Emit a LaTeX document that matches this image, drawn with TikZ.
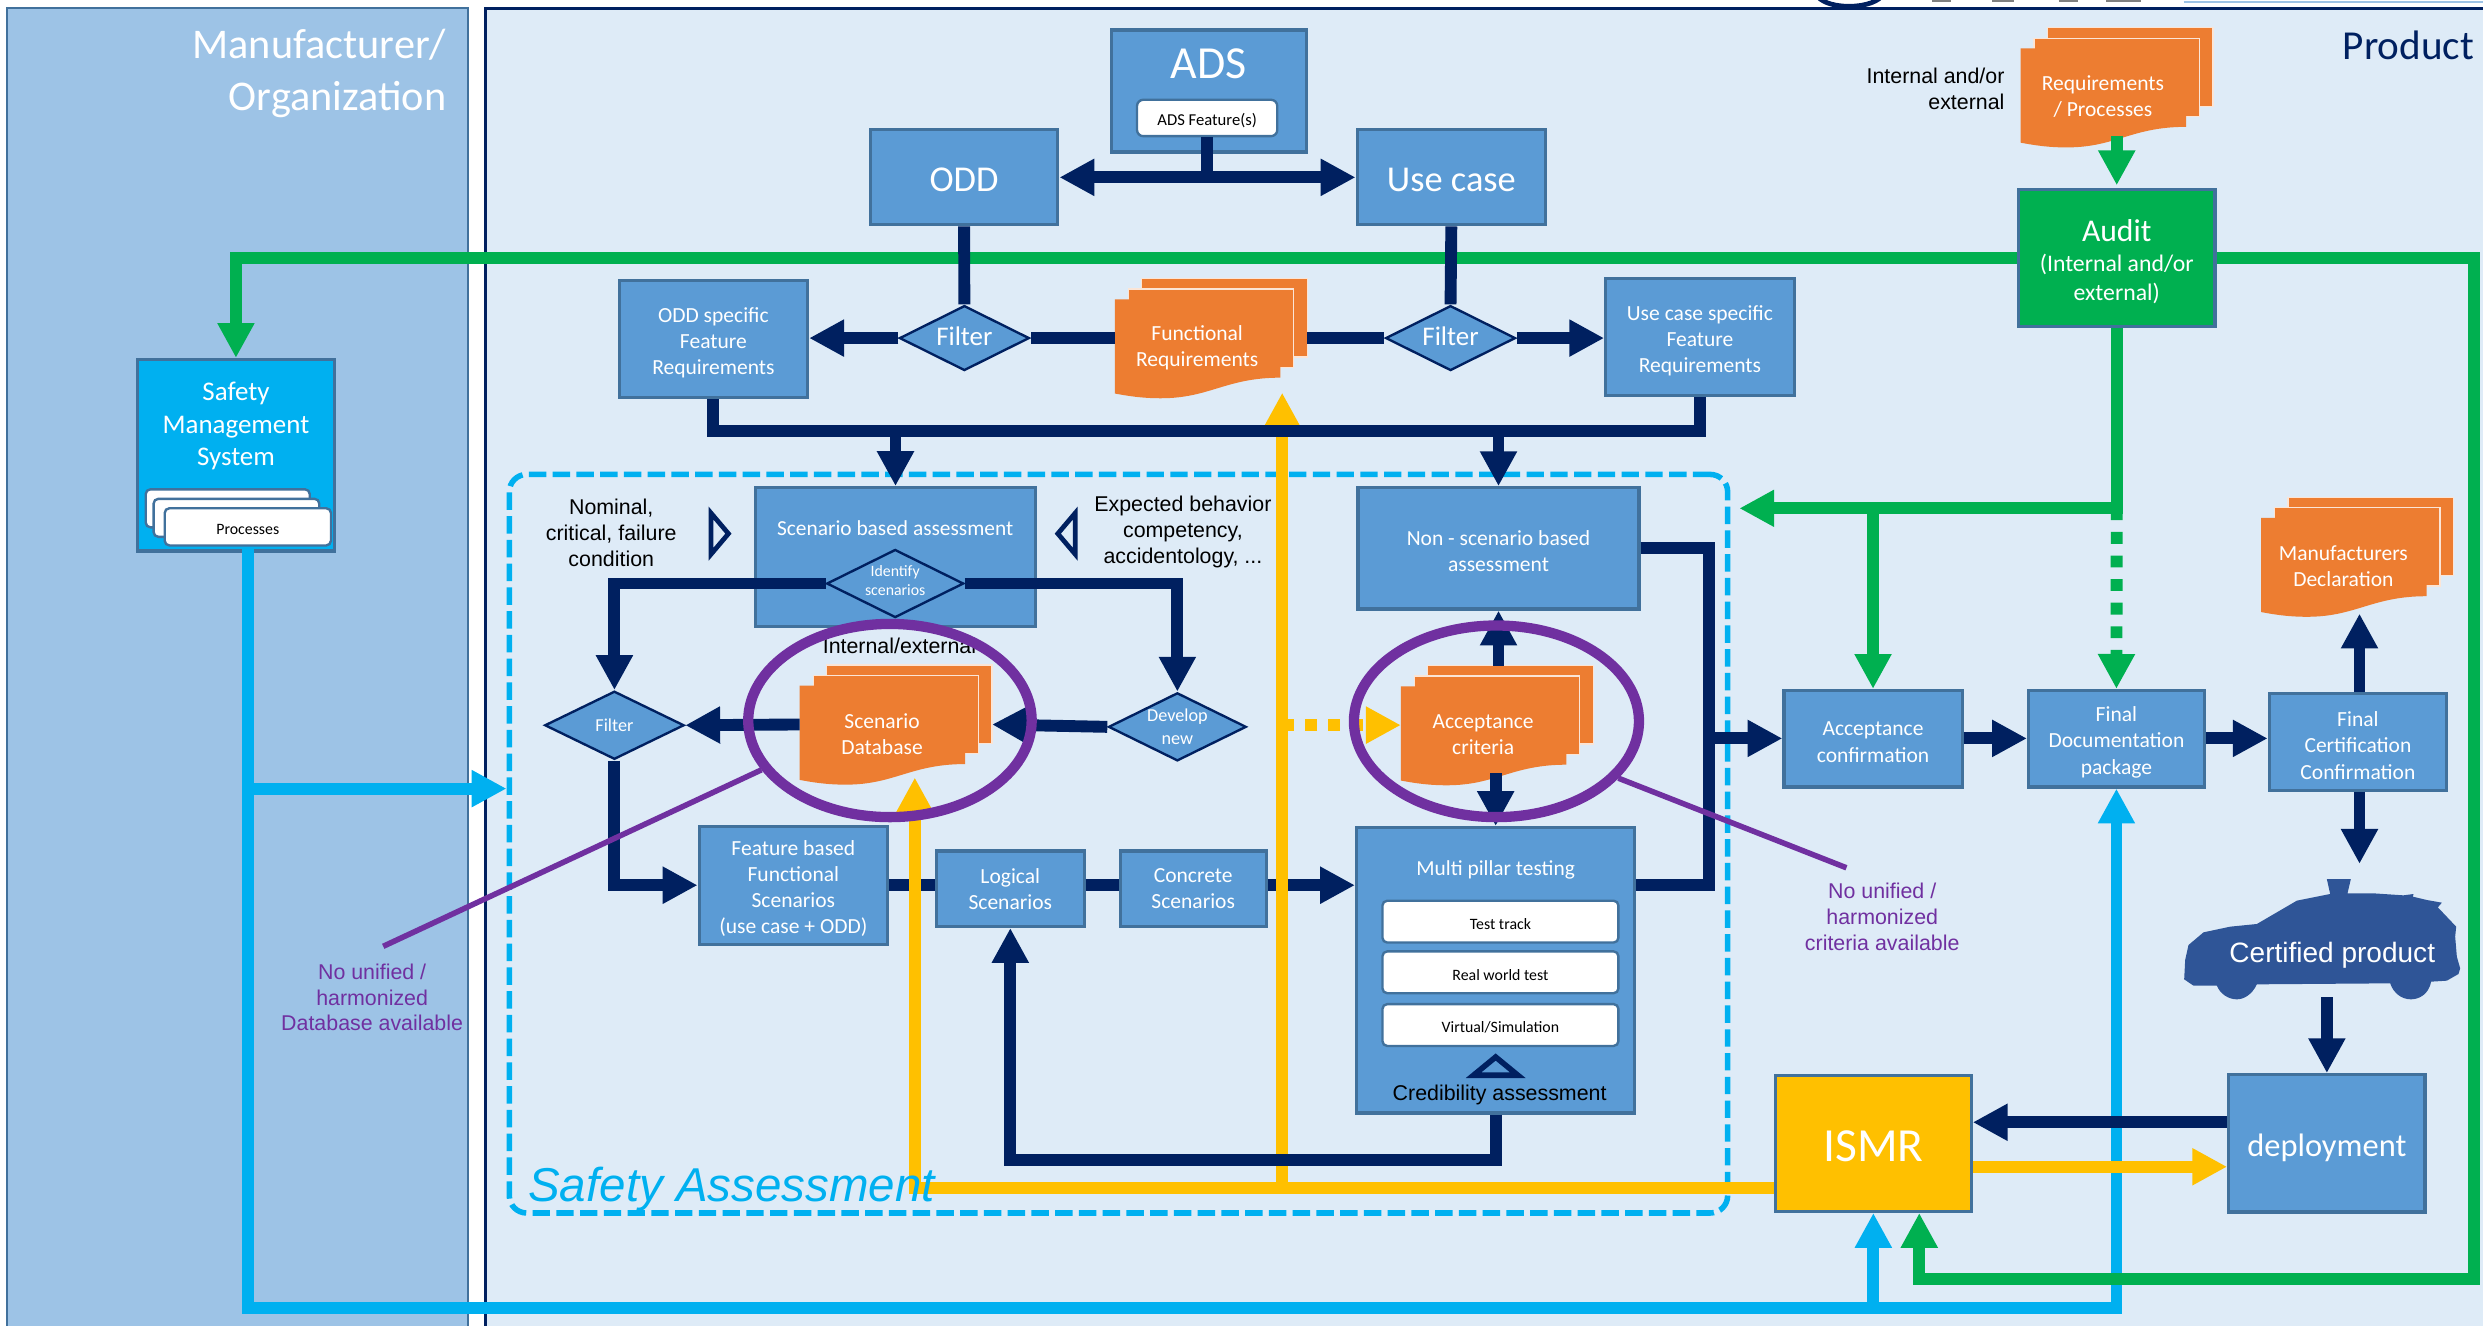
\documentclass[tikz,border=0pt]{standalone}
\usepackage{fontspec}
\setmainfont{Carlito}
\newfontfamily\arialfont{Liberation Sans}
\usetikzlibrary{arrows.meta,shapes.geometric}

\definecolor{panelblue}{HTML}{9DC3E6}
\definecolor{panelpale}{HTML}{DEEBF7}
\definecolor{boxblue}{HTML}{5B9BD5}
\definecolor{boxedge}{HTML}{41719C}
\definecolor{navy}{HTML}{002060}
\definecolor{skyblue}{HTML}{00B0F0}
\definecolor{auditgreen}{HTML}{00B050}
\definecolor{docorange}{HTML}{ED7D31}
\definecolor{ismryellow}{HTML}{FFC000}
\definecolor{ringpurple}{HTML}{7030A0}
\definecolor{carblue}{HTML}{2F5597}

\tikzset{
  fs/.style 2 args={font=\fontsize{#1}{#2}\selectfont},
  sink/.style={execute at begin node={\rule{0pt}{#1}}},
  basebox/.style={draw=boxedge,line width=2pt,fill=boxblue,text=white,align=center,inner sep=0pt},
  bluebox/.style={basebox,fs={13.6}{16.5}},
  bigbox/.style={basebox,sink=0.77em},
  whitebox/.style={draw=boxedge,line width=1.5pt,fill=white,text=black,rounded corners=3pt,inner sep=0pt,sink=1em,fs={10}{12}},
  filterbox/.style={diamond,aspect=2,draw=navy,line width=1.5pt,fill=boxblue,text=white,align=center,inner sep=0pt},
  whitetext/.style={text=white,align=center,inner sep=0pt},
  doctext/.style={whitetext,fs={13.6}{16.5}},
  labeltext/.style={align=center,inner sep=0pt,font=\arialfont\fontsize{13.5}{16.2}\selectfont},
  ring/.style={ellipse,draw=ringpurple,line width=6.5pt,inner sep=0pt},
  leader/.style={draw=ringpurple,line width=3.5pt},
  flowline/.style={line width=7.5pt},
  flowtip/.style={line width=7.5pt,-{Triangle[length=22pt,width=22pt]}},
}

% taller first line, pushes a block of lines down in its box
\newcommand{\firstline}[1]{\rule{0pt}{#1pt}}

% one stacked document, top left corner of the front sheet at (#2,#3)
\newcommand{\docstack}[4]{
  \fill[docorange,draw=white!80!docorange,line width=0.8pt] (#2+17,#3-13) rectangle ++(104.5,49.5);
  \fill[docorange,draw=white!80!docorange,line width=0.8pt] (#2+8.5,#3-6.5) rectangle ++(104.5,49.5);
  \fill[docorange] (#2,#3) -- ++(104.5,0) -- ++(0,49.5) .. controls (#2+70,#3+49.5) and (#2+60,#3+62.5) .. (#2+29,#3+62.5) .. controls (#2+17,#3+62.5) and (#2+8,#3+61) .. (#2,#3+59.5) -- cycle;
  \node[doctext] (#1) at (#2+52,#3+30.5) {#4};
  \coordinate (#1-w) at (#2,#3+24.5);
  \coordinate (#1-e) at (#2+121.5,#3+24.5);
  \coordinate (#1-n) at (#2+60,#3-13);
  \coordinate (#1-s) at (#2+60,#3+55);
}

\begin{document}
\begin{tikzpicture}[x=1pt,y=-1pt]
  \useasboundingbox (0,0) rectangle (1568,837);
  % panels
  \draw[boxedge,line width=1pt,fill=panelblue] (4.5,5) rectangle (295.5,845);
  \draw[navy,line width=1.5pt,fill=panelpale] (306.5,5.3) rectangle (1580,845);
  \node[text=white,align=right,inner sep=0pt,anchor=north east,fs={26.7}{33}] (maker) at (282,18) {Manufacturer/\\Organization};
  \node[text=navy,inner sep=0pt,anchor=east,fs={26}{30}] (product) at (1562.5,28.5) {Product};
  % rest of the logo above the panel
  \draw[navy,line width=3pt] (1148,-2) .. controls (1155,6) and (1180,6) .. (1188,-2);
  \draw[gray,line width=1.2pt] (1220,0.5) -- (1232,0.5) (1258,0.5) -- (1272,0.5) (1300,0.5) -- (1312,0.5) (1330,0.5) -- (1352,0.5);
  \draw[panelblue,line width=1.2pt] (1379,1) -- (1568,1);

  % safety assessment frame
  \node[draw=skyblue,line width=3.5pt,dash pattern=on 11pt off 4pt,rounded corners=11pt,minimum width=769.4,minimum height=466.4] (safety) at (706.3,532.8) {};

  % boxes
  \node[basebox,minimum width=123,minimum height=77] (ads) at (763.3,57.5) {};
  \node[whitetext,fs={29}{33}] (adstext) at (763.3,40) {ADS};
  \node[whitebox,minimum width=88.6,minimum height=23,fs={10.5}{12},rounded corners=4pt] (adsfeat) at (762.3,74.5) {ADS Feature(s)};
  \node[bigbox,minimum width=118.5,minimum height=60,fs={23}{27}] (odd) at (608.8,112) {ODD};
  \node[bigbox,minimum width=119,minimum height=60,fs={23}{27}] (usecase) at (916.5,112) {Use case};
  \node[bluebox,minimum width=119,minimum height=74] (oddspec) at (450.5,214) {\firstline{14}ODD specific\\Feature\\Requirements};
  \node[bluebox,minimum width=119,minimum height=74] (usespec) at (1073.5,213) {\firstline{14}Use case specific\\Feature\\Requirements};
  \node[filterbox,minimum width=82,minimum height=41,fs={17}{19}] (filtera) at (609,213.5) {\raisebox{2pt}{Filter}};
  \node[filterbox,minimum width=82,minimum height=41,fs={17}{19}] (filterb) at (916,213.5) {\raisebox{2pt}{Filter}};
  \node[basebox,fill=skyblue,minimum width=124,minimum height=121] (sms) at (149,287.5) {};
  \node[whitetext,fs={17}{20.5}] (smstext) at (149,269) {Safety\\Management\\System};
  \node[whitebox,minimum width=103.6,minimum height=24] (procc) at (143.8,321) {};
  \node[whitebox,minimum width=104.6,minimum height=24] (procb) at (149.3,327) {};
  \node[whitebox,minimum width=105,minimum height=23.5] (proca) at (156.5,332.7) {Processes};
  \node[basebox,minimum width=177,minimum height=87.5] (scen) at (565.5,351.7) {};
  \node[whitetext,fs={13.5}{16}] (scentext) at (565.3,333.5) {Scenario based assessment};
  \node[filterbox,minimum width=86.5,minimum height=43] (identify) at (565.3,368.5) {};
  \node[whitetext,fs={10}{12}] (identifytext) at (565.3,366.5) {Identify\\scenarios};
  \node[bluebox,minimum width=177.5,minimum height=76.6] (nonscen) at (946.3,346.3) {\firstline{13}Non - scenario based\\assessment};
  \node[filterbox,minimum width=88,minimum height=43,fs={11.5}{13}] (filterc) at (388,458) {Filter};
  \node[filterbox,minimum width=87,minimum height=43,fs={11.5}{14.6}] (develop) at (743.5,459) {Develop\\new};
  \node[bluebox,minimum width=119,minimum height=74.4] (feat) at (501,559) {\firstline{14}Feature based\\Functional\\Scenarios\\(use case + ODD)};
  \node[bluebox,minimum width=93.2,minimum height=47.7] (logical) at (638,561.2) {Logical\\Scenarios};
  \node[bluebox,minimum width=92.3,minimum height=47.7] (concrete) at (753.5,561.2) {Concrete\\Scenarios};
  \node[basebox,minimum width=175.7,minimum height=180.2] (multi) at (944.5,612.7) {};
  \node[whitetext,fs={13.5}{16}] (multitext) at (944.5,549.5) {Multi pillar testing};
  \node[whitebox,minimum width=149,minimum height=26.4] (track) at (947.5,582) {Test track};
  \node[whitebox,minimum width=149,minimum height=26.4] (realworld) at (947.5,614) {Real world test};
  \node[whitebox,minimum width=149,minimum height=26.4] (virtual) at (947.5,647.3) {Virtual/Simulation};
  \node[labeltext,text=black] (cred) at (947,691.5) {Credibility assessment};
  \draw[navy,line width=3.5pt] (930.5,679) -- (944.5,667.5) -- (958.5,679) -- cycle;
  \node[bluebox,minimum width=112.5,minimum height=61] (accept) at (1182.8,466.5) {\firstline{13}Acceptance\\confirmation};
  \node[bluebox,minimum width=111,minimum height=61] (finaldoc) at (1336.5,466.5) {\firstline{14}Final\\Documentation\\package};
  \node[bluebox,minimum width=112,minimum height=61] (finalcert) at (1489,468.5) {\firstline{14}Final\\Certification\\Confirmation};
  \node[bigbox,fill=ismryellow,minimum width=123.6,minimum height=86,fs={30}{34}] (ismr) at (1183,722) {ISMR};
  \node[basebox,sink=1em,minimum width=124,minimum height=86.7,fs={20.5}{24}] (deploy) at (1469.4,722) {deployment};
  \node[basebox,fill=auditgreen,minimum width=124,minimum height=86.4,fs={15}{18.5}] (audit) at (1336.7,162.8) {\firstline{19}{\fontsize{20}{24}\selectfont Audit}\\(Internal and/or\\external)};

  % car
  \begin{scope}[shift={(1351.5,549.4)},x=0.2105pt,y=-0.2105pt]
    \fill[carblue] (560,27) -- (632,27) -- (622,70) -- (700,70) -- (790,76) -- (820,72) -- (818,80) -- (860,90) -- (905,98) -- (893,112) -- (948,170) -- (945,200) -- (950,260) -- (960,295) -- (955,312) -- (920,332) -- (873,335) .. controls (865,375) and (835,388) .. (812,388) .. controls (785,388) and (760,370) .. (750,340) -- (350,343) .. controls (335,375) and (310,388) .. (290,388) .. controls (265,388) and (240,372) .. (230,347) -- (160,347) -- (132,328) -- (135,270) -- (145,225) -- (190,187) -- (270,170) -- (350,162) -- (470,92) -- (570,72) -- cycle;
  \end{scope}
  \node[text=white,inner sep=0pt,font=\arialfont\fontsize{17.7}{20}\selectfont] (car) at (1472.8,603.5) {Certified product};
  \coordinate (cartop) at (1490,545.5);
  \coordinate (carbottom) at (1469.4,629.7);

  % documents
  \docstack{func}{704}{189}{Functional\\Requirements}
  \docstack{req}{1276}{30.6}{Requirements\\/ Processes}
  \docstack{manuf}{1427.8}{327}{Manufacturers\\Declaration}
  \docstack{scendb}{505}{433}{Scenario\\Database}
  \docstack{accdoc}{884.6}{433.4}{Acceptance\\criteria}

  % labels
  \node[labeltext] (nominal) at (386,336.5) {Nominal,\\critical, failure\\condition};
  \node[labeltext] (expected) at (747,336) {Expected behavior\\competency,\\accidentology, ...};
  \node[labeltext] (intext) at (568,408) {Internal/external};
  \node[labeltext,align=right,anchor=east] (reqlabel) at (1266,56.3) {Internal and/or\\external};
  \node[labeltext,text=ringpurple] (nodb) at (235,630) {No unified /\\harmonized\\Database available};
  \node[labeltext,text=ringpurple] (nocrit) at (1188.6,579) {No unified /\\harmonized\\criteria available};
  \draw[navy,line width=3pt] (449,324) -- (460,337) -- (449,350) -- cycle;
  \draw[navy,line width=3pt] (679,324) -- (668,337) -- (679,350) -- cycle;

  % skyblue lines
  \coordinate (bluelow) at (0,826);
  \coordinate (bluemid) at (0,498);
  \draw[skyblue,flowtip] (proca.south) |- (finaldoc.south |- bluelow) -- (finaldoc.south);
  \draw[skyblue,flowtip] (ismr.south |- bluelow) -- (ismr.south);
  \draw[skyblue,flowtip] (proca.south |- bluemid) -- (safety.west |- bluemid);

  % green lines
  \coordinate (greentip) at (1098.4,321);
  \coordinate (greenright) at (1562.5,807.5);
  \coordinate (greenismr) at (1212,0);
  \coordinate (audittip) at (1336.7,117);
  \draw[auditgreen,flowtip] (audittip |- req-s) -- (audittip);
  \draw[auditgreen,flowtip] (audit.west) -| (sms.north);
  \draw[auditgreen,flowtip] (audit.east) -| (greenright) -| (greenismr |- ismr.south);
  \draw[auditgreen,flowtip] (audit.south) |- (greentip);
  \draw[auditgreen,flowtip] (accept.north |- greentip) -- (accept.north);
  \draw[auditgreen,flowtip,dash pattern=on 7.5pt off 7.4pt] (audit.south |- greentip) -- (finaldoc.north);

  % navy lines under the yellow ones
  \draw[navy,flowline] (feat.east) -- (logical.west |- feat.east);
  \draw[navy,flowline] (logical.east |- feat.east) -- (concrete.west |- feat.east);
  \draw[navy,flowtip] (concrete.east |- feat.east) -- (multi.west |- feat.east);

  % yellow lines
  \coordinate (yellowlow) at (0,750);
  \coordinate (yellowdeploy) at (0,736.8);
  \coordinate (dbtip) at (577.7,491);
  \coordinate (functip) at (809.7,248);
  \draw[ismryellow,flowtip] (ismr.west |- yellowlow) -| (dbtip);
  \draw[ismryellow,flowtip] (functip |- yellowlow) -- (functip);
  \draw[ismryellow,flowtip,dash pattern=on 7.5pt off 7pt] (functip |- accdoc-w) -- (accdoc-w);
  \draw[ismryellow,flowtip] (ismr.east |- yellowdeploy) -- (deploy.west |- yellowdeploy);

  % navy lines
  \coordinate (navycollect) at (0,272);
  \coordinate (navyjoin) at (1079.4,466.3);
  \coordinate (navylow) at (0,732.8);
  \coordinate (navydeploy) at (0,708.7);
  \coordinate (mantip) at (1490,387.5);
  \draw[navy,flowline] (adsfeat.south) -- (adsfeat.south |- odd.east);
  \draw[navy,flowtip,{Triangle[length=22pt,width=22pt]}-{Triangle[length=22pt,width=22pt]}] (odd.east) -- (usecase.west);
  \draw[navy,flowline] (odd.south) -- (filtera.north);
  \draw[navy,flowline] (usecase.south) -- (filterb.north);
  \draw[navy,flowtip] (filtera.west) -- (oddspec.east |- filtera.west);
  \draw[navy,flowline] (func-w) -- (filtera.east);
  \draw[navy,flowline] (func-e) -- (filterb.west);
  \draw[navy,flowtip] (filterb.east) -- (usespec.west |- filterb.east);
  \draw[navy,flowline] (oddspec.south) |- (usespec.south |- navycollect) -- (usespec.south);
  \draw[navy,flowtip] (scen.north |- navycollect) -- (scen.north);
  \draw[navy,flowtip] (nonscen.north |- navycollect) -- (nonscen.north);
  \draw[navy,flowtip] (identify.west) -| (filterc.north);
  \draw[navy,flowtip] (identify.east) -| (develop.north);
  \draw[navy,flowtip] (scendb-w) -- (filterc.east);
  \draw[navy,flowtip] (develop.west) -- (scendb-e);
  \draw[navy,flowtip] (filterc.south) |- (feat.west);
  \draw[navy,flowtip] (multi.south) |- (logical.south |- navylow) -- (logical.south);
  \draw[navy,flowline] (nonscen.east) -| (navyjoin);
  \draw[navy,flowline] (multi.east |- feat.east) -| (navyjoin);
  \draw[navy,flowtip] (navyjoin) -- (accept.west |- navyjoin);
  \draw[navy,flowtip] (nonscen.south |- accdoc-n) -- (nonscen.south);
  \draw[navy,flowtip] (multi.north |- accdoc-s) -- (multi.north);
  \draw[navy,flowtip] (accept.east |- navyjoin) -- (finaldoc.west |- navyjoin);
  \draw[navy,flowtip] (finaldoc.east |- navyjoin) -- (finalcert.west |- navyjoin);
  \draw[navy,flowtip] (finalcert.north -| mantip) -- (mantip);
  \draw[navy,flowtip] (finalcert.south -| cartop) -- (cartop);
  \draw[navy,flowtip] (carbottom) -- (deploy.north);
  \draw[navy,flowtip] (deploy.west |- navydeploy) -- (ismr.east |- navydeploy);

  % purple rings
  \node[ring,minimum width=179,minimum height=122] (ringdb) at (562,455) {};
  \node[ring,minimum width=180,minimum height=121] (ringacc) at (945,455.5) {};
  \coordinate (leaderdb) at (242,597.6);
  \coordinate (leaderacc) at (1166,548);
  \draw[leader] (ringdb.201) -- (leaderdb);
  \draw[leader] (ringacc.335) -- (leaderacc);

  \node[text=skyblue,inner sep=0pt,font=\arialfont\itshape\fontsize{30}{34}\selectfont] (sa) at (462,751) {Safety Assessment};
\end{tikzpicture}
\end{document}
